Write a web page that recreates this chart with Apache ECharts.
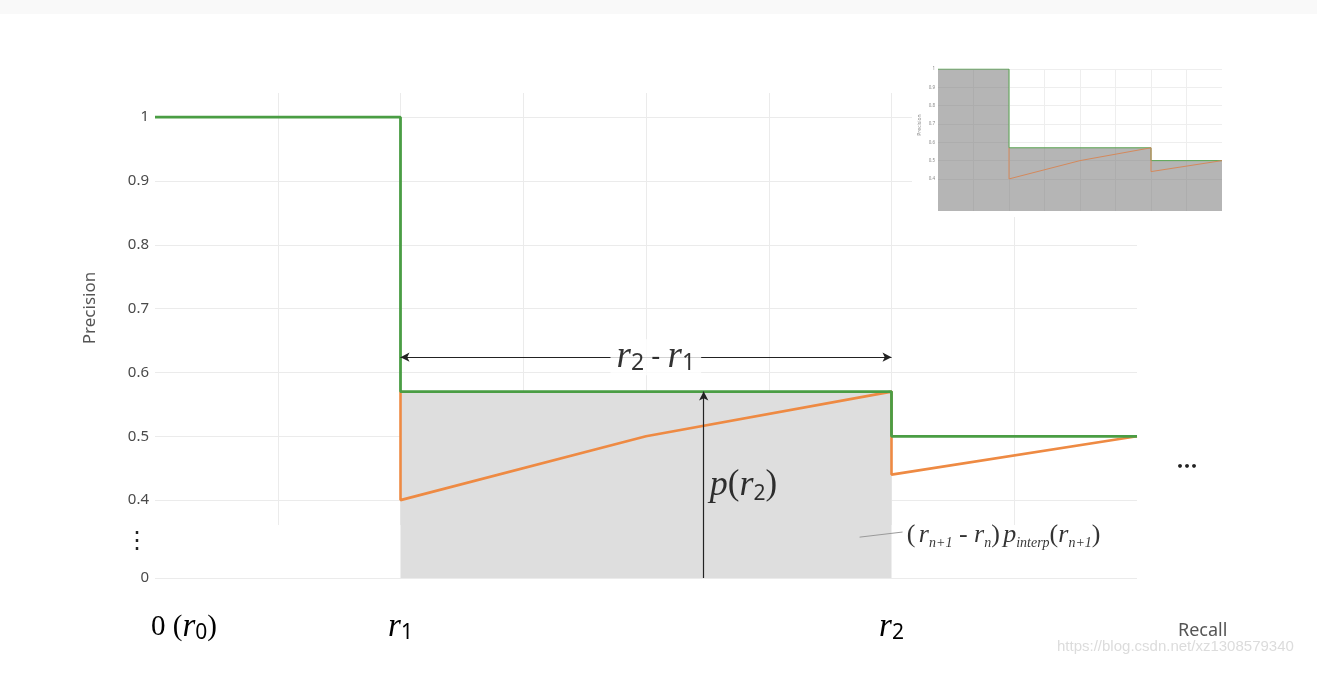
<!DOCTYPE html>
<html><head><meta charset="utf-8">
<script src="https://cdn.jsdelivr.net/npm/echarts@6/dist/echarts.min.js"></script>
<style>html,body{margin:0;padding:0;background:#fff}#c{width:1317px;height:693px}</style>
</head><body><div id="c"></div>
<script>
// ---- data ----
const recallGreen = [0, 0.2, 0.2, 0.6, 0.6, 0.8];
const precisionGreen = [1, 1, 0.57, 0.57, 0.5, 0.5];
const recallOrange = [0.2, 0.2, 0.4, 0.6, 0.6, 0.8];
const precisionOrange = [0.57, 0.4, 0.5, 0.57, 0.44, 0.5];
const r1 = 0.2, r2 = 0.6;
const yTickValues = [0.4, 0.5, 0.6, 0.7, 0.8, 0.9, 1];
const yZeroValue = 0.278;      // broken axis: the "0" baseline
const yEllipsisValue = 0.335;  // "⋮" between 0 and 0.4
const xLabelValues = [0, 0.2, 0.6];
const xLabelSubs = ['0', '1', '2'];
const xGridValues = [0.1, 0.2, 0.3, 0.4, 0.5, 0.6, 0.7];
const insetYTickValues = [0.4, 0.5, 0.6, 0.7, 0.8, 0.9, 1];

// ---- helpers ----
const zip = (xs, ys) => xs.map((x, i) => [x, ys[i]]);
const green = zip(recallGreen, precisionGreen);
const orange = zip(recallOrange, precisionOrange);
function spanFill(pts, a, b) {
  let s = pts.filter(p => p[0] >= a && p[0] <= b);
  while (s.length > 1 && s[0][0] === s[1][0]) s.shift();
  while (s.length > 1 && s[s.length - 1][0] === s[s.length - 2][0]) s.pop();
  return s;
}
const fillData = spanFill(green, r1, r2);

const TXT = '#000';
const rich = {
  i: {fontFamily: 'Liberation Serif', fontStyle: 'italic', fontSize: 33, color: TXT, lineHeight: 34},
  u: {fontFamily: 'Liberation Serif', fontSize: 29, color: TXT, lineHeight: 34},
  s: {fontFamily: 'Noto Sans', fontSize: 21, color: TXT, lineHeight: 19, verticalAlign: 'bottom'},
  sp: {width: 58},
  ai: {fontFamily: 'Liberation Serif', fontStyle: 'italic', fontSize: 37, color: TXT, lineHeight: 36},
  as: {fontFamily: 'Noto Sans', fontSize: 23, color: TXT, lineHeight: 21, verticalAlign: 'bottom'},
  am: {fontFamily: 'Noto Sans', fontSize: 28, color: TXT, lineHeight: 36},
  pi: {fontFamily: 'Liberation Serif', fontStyle: 'italic', fontSize: 36, color: TXT, lineHeight: 38},
  pu: {fontFamily: 'Liberation Serif', fontSize: 35, color: TXT, lineHeight: 38},
  ps: {fontFamily: 'Noto Sans', fontSize: 21, color: TXT, lineHeight: 21, verticalAlign: 'bottom'},
  fi: {fontFamily: 'Liberation Serif', fontStyle: 'italic', fontSize: 26, color: TXT, lineHeight: 30},
  fu: {fontFamily: 'Liberation Serif', fontSize: 26, color: TXT, lineHeight: 30},
  fs: {fontFamily: 'Liberation Serif', fontStyle: 'italic', fontSize: 14, color: TXT, lineHeight: 15, verticalAlign: 'bottom'}
};

const chart = echarts.init(document.getElementById('c'), null, {renderer: 'canvas'});
const option = {
  animation: false,
  backgroundColor: '#fff',
  grid: [
    {left: 155, right: 180, top: 91.6, bottom: 115},
    {left: 155, right: 180, top: 93, bottom: 168},
    {left: 938, right: 95, top: 69, bottom: 482}
  ],
  xAxis: [
    {gridIndex: 0, type: 'value', min: 0, max: 0.8,
     axisLine: {show: false}, axisTick: {show: false}, splitLine: {show: false},
     axisLabel: {customValues: xLabelValues, margin: 32, rich: rich, color: TXT,
       formatter: v => {
         const k = xLabelValues.indexOf(v);
         return k === 0 ? '{sp|}{u|0 (}{i|r}{s|' + xLabelSubs[k] + '}{u|)}' : '{i|r}{s|' + xLabelSubs[k] + '}';
       }}},
    {gridIndex: 1, type: 'value', min: 0, max: 0.8,
     axisLine: {show: false}, axisLabel: {show: false},
     axisTick: {show: false, customValues: xGridValues},
     splitLine: {show: true, lineStyle: {color: '#ebebeb', width: 1}}},
    {gridIndex: 2, type: 'value', min: 0, max: 0.8, z: 3,
     axisLine: {show: false}, axisLabel: {show: false},
     axisTick: {show: false, customValues: xGridValues},
     splitLine: {show: true, lineStyle: {color: '#eeeeee', width: 1}}}
  ],
  yAxis: [
    {gridIndex: 0, type: 'value', min: yZeroValue, max: 1.04,
     axisLine: {show: false},
     axisTick: {show: false, customValues: [yZeroValue].concat(yTickValues)},
     splitLine: {show: true, lineStyle: {color: '#ebebeb', width: 1}},
     axisLabel: {customValues: [yZeroValue, yEllipsisValue].concat(yTickValues), margin: 6,
       color: '#4a4a4a', fontFamily: 'Noto Sans', fontSize: 15,
       rich: {e: {fontFamily: 'DejaVu Sans', fontSize: 24, color: '#222'}},
       formatter: v => v === yZeroValue ? '0' : (v === yEllipsisValue ? '{e|⋮}' : String(v))}},
    {gridIndex: 1, type: 'value', min: 0, max: 1, show: false},
    {gridIndex: 2, type: 'value', min: 0.225, max: 1, z: 3,
     axisLine: {show: false},
     axisTick: {show: false, customValues: insetYTickValues},
     splitLine: {show: true, lineStyle: {color: '#eeeeee', width: 1}},
     axisLabel: {customValues: insetYTickValues, margin: 3, color: '#888', fontSize: 4.5,
       fontFamily: 'Noto Sans', formatter: v => String(v)}}
  ],
  series: [
    {name: 'area', type: 'line', xAxisIndex: 0, yAxisIndex: 0, data: fillData, symbol: 'none', z: 1,
     lineStyle: {width: 0}, areaStyle: {color: '#dedede', opacity: 1, origin: 'start'}},
    {name: 'precision', type: 'line', xAxisIndex: 0, yAxisIndex: 0, data: orange, symbol: 'none', z: 2,
     lineStyle: {color: '#ee8a43', width: 2.6}},
    {name: 'interpolated', type: 'line', xAxisIndex: 0, yAxisIndex: 0, data: green, symbol: 'none', z: 3,
     lineStyle: {color: '#4a9d44', width: 2.8}},
    {name: 'annotations', type: 'scatter', xAxisIndex: 0, yAxisIndex: 0, symbolSize: 0, z: 6, silent: true,
     data: [
       {value: [0.408, 0.624], label: {show: true, position: 'inside', backgroundColor: '#fff', padding: [0, 6],
         color: TXT, rich: rich, formatter: '{ai|r}{as|2}{am| - }{ai|r}{as|1}'}},
       {value: [0.452, 0.4235], label: {show: true, position: 'right', distance: 0, color: TXT,
         rich: rich, formatter: '{pi|p}{pu|(}{pi|r}{ps|2}{pu|)}'}},
       {value: [0.6125, 0.345], label: {show: true, position: 'right', distance: 0, color: TXT,
         rich: rich, formatter: '{fu|(} {fi|r}{fs|n+1}{fu| - }{fi|r}{fs|n}{fu|)} {fi|p}{fs|interp}{fu|(}{fi|r}{fs|n+1}{fu|)}'}}
     ],
     markLine: {silent: true, symbolSize: [7, 9], label: {show: false}, animation: false,
       lineStyle: {color: '#222', width: 1.2, type: 'solid'},
       data: [
         [{coord: [r1, 0.624], symbol: 'arrow'}, {coord: [r2, 0.624], symbol: 'arrow'}],
         [{coord: [0.447, yZeroValue], symbol: 'none'}, {coord: [0.447, 0.57], symbol: 'arrow'}],
         [{coord: [0.574, 0.342], symbol: 'none', lineStyle: {color: '#9a9a9a', width: 1}},
          {coord: [0.609, 0.350], symbol: 'none'}]
       ]}},
    {name: 'inset interpolated', type: 'line', xAxisIndex: 2, yAxisIndex: 2, data: green, symbol: 'none', z: 4,
     lineStyle: {color: '#58a450', width: 1}, areaStyle: {color: 'rgba(120,120,120,0.55)', opacity: 1, origin: 'start'}},
    {name: 'inset precision', type: 'line', xAxisIndex: 2, yAxisIndex: 2, data: orange, symbol: 'none', z: 5,
     lineStyle: {color: '#d4895c', width: 1}}
  ],
  graphic: [
    {type: 'rect', z: -1, shape: {x: 0, y: 0, width: 1317, height: 14}, style: {fill: '#f9f9f9'}},
    {type: 'rect', z: 1, shape: {x: 912, y: 57, width: 320, height: 160}, style: {fill: '#fff'}},
    {type: 'text', z: 5, x: 90, y: 308, rotation: Math.PI / 2,
     style: {text: 'Precision', fill: '#555', font: '17px "Noto Sans"', textAlign: 'center', textVerticalAlign: 'middle'}},
    {type: 'text', z: 5, x: 920, y: 125, rotation: Math.PI / 2,
     style: {text: 'Precision', fill: '#888', font: '5px "Noto Sans"', textAlign: 'center', textVerticalAlign: 'middle'}},
    {type: 'text', z: 5, x: 1187, y: 467,
     style: {text: '•••', fill: '#222', font: 'bold 11px "DejaVu Sans"', textAlign: 'center', textVerticalAlign: 'middle'}},
    {type: 'text', z: 5, x: 1178, y: 631,
     style: {text: 'Recall', fill: '#555', font: '18px "Noto Sans"', textAlign: 'left', textVerticalAlign: 'middle'}},
    {type: 'text', z: 5, x: 1057, y: 647,
     style: {text: 'https://blog.csdn.net/xz1308579340', fill: '#dcdcdc', font: '15px "Liberation Sans"', textAlign: 'left', textVerticalAlign: 'middle'}}
  ]
};
chart.setOption(option);
</script>
</body></html>
